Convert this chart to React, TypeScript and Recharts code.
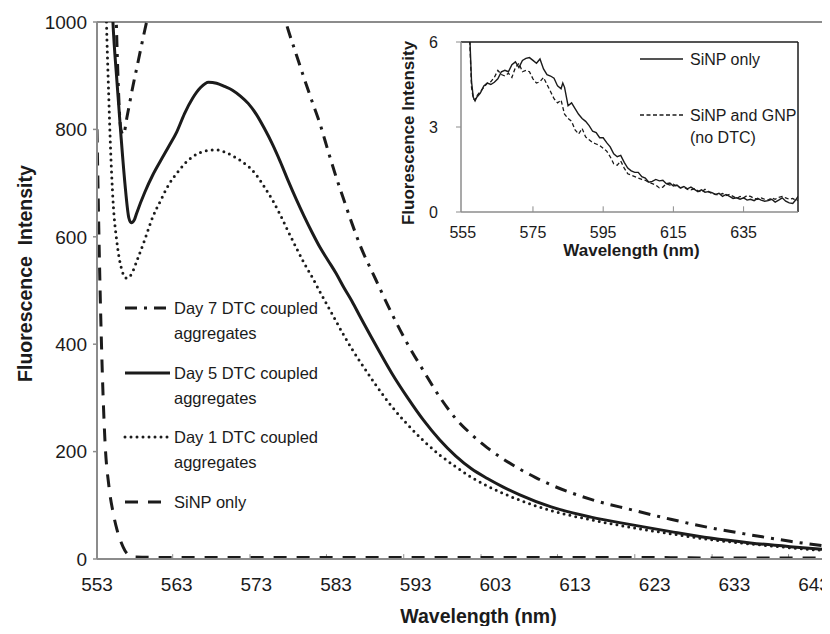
import React from "react";
import { LineChart, Line, XAxis, YAxis, ReferenceLine, Legend, Label } from "recharts";

const FONT = "'Liberation Sans', Arial, Helvetica, sans-serif";
const AXIS_GRAY = "#8c8c8c";
const INK = "#1b1b1b";

// ---- main spectra (wavelength nm / intensity) ----
const day7Nm = [553, 554, 555, 555.5, 556, 556.3, 556.8, 557.5, 558, 559, 560, 565, 570, 574, 576, 577, 578, 579, 580, 581, 582, 583, 584, 585, 586, 588, 590, 592, 594, 596, 598, 600, 602, 604, 606, 608, 610, 615, 620, 625, 630, 635, 640, 645];
const day7Val = [4000, 2400, 1300, 960, 800, 790, 826, 880, 915, 985, 1050, 1250, 1250, 1120, 1035, 985, 940, 895, 852, 810, 760, 712, 668, 625, 585, 520, 457, 400, 350, 302, 262, 232, 207, 186, 168, 152, 138, 111, 92, 74, 58, 45, 33, 23];

const day5Nm = [553, 554, 555, 555.5, 556, 556.5, 557, 557.3, 557.7, 558, 559, 560, 561, 562, 563, 564, 565, 566, 567, 568, 569, 570, 571, 572, 573, 574, 575, 576, 577, 578, 579, 580, 581, 582, 583, 584, 585, 586, 588, 590, 592, 594, 596, 598, 600, 602, 604, 606, 610, 615, 620, 625, 630, 635, 640, 645];
const day5Val = [2200, 1500, 1000, 890, 790, 700, 635, 626, 632, 645, 683, 715, 742, 768, 795, 830, 858, 878, 888, 886, 880, 873, 862, 848, 828, 802, 773, 740, 704, 670, 638, 608, 580, 556, 532, 505, 480, 452, 398, 346, 300, 258, 222, 192, 168, 150, 134, 120, 97, 78, 64, 51, 39, 30, 23, 17];

const day1Nm = [553, 554, 554.5, 555, 555.5, 556, 556.7, 557.3, 558, 559, 560, 561, 562, 563, 564, 565, 566, 567, 568, 569, 570, 571, 572, 573, 574, 575, 576, 577, 578, 579, 580, 581, 582, 583, 584, 585, 586, 588, 590, 592, 594, 596, 598, 600, 602, 604, 606, 610, 615, 620, 625, 630, 635, 640, 645];
const day1Val = [3000, 1150, 850, 670, 590, 545, 523, 530, 555, 595, 637, 668, 697, 718, 736, 749, 757, 761, 762, 758, 751, 742, 731, 715, 693, 669, 641, 610, 580, 551, 525, 497, 470, 443, 416, 391, 368, 324, 284, 250, 220, 194, 172, 152, 136, 122, 110, 90, 73, 59, 47, 36, 28, 21, 15];

const sinpNm = [553, 553.3, 553.6, 554, 554.5, 555, 555.5, 556, 556.5, 557, 557.5, 560, 570, 580, 590, 600, 610, 620, 630, 640, 645];
const sinpVal = [800, 560, 380, 220, 135, 88, 55, 32, 16, 7, 4, 3, 3, 3, 3, 3, 3, 3, 2, 2, 2];

const mainTicksX = [553, 563, 573, 583, 593, 603, 613, 623, 633, 643];
const mainTicksY = [0, 200, 400, 600, 800, 1000];
const mainMinorX = [562.5, 572.2, 581.8, 591.5, 601.2, 610.8, 620.5, 630.2, 639.8];

// ---- inset spectra ----
const insetSolidNm = [556.5, 557, 557.5, 558, 558.5, 559, 560, 561, 562, 563, 564, 565, 566, 567, 568, 569, 570, 571, 572, 573, 574, 575, 576, 577, 578, 579, 580, 581, 582, 583, 583.5, 584, 585, 586, 587, 588, 589, 590, 591, 592, 593, 594, 595, 596, 597, 598, 599, 600, 601, 602, 603, 604, 605, 606, 607, 608, 609, 610, 611, 612, 613, 614, 615, 616, 617, 618, 619, 620, 621, 622, 623, 624, 625, 626, 627, 628, 629, 630, 631, 632, 633, 634, 635, 636, 637, 638, 639, 640, 641, 642, 643, 644, 645, 646, 647, 648, 649, 650, 650.5];
const insetSolidVal = [6.5, 6.2, 4.6, 4.05, 3.92, 4.05, 4.2, 4.45, 4.55, 4.5, 4.58, 4.7, 4.95, 5.0, 4.95, 5.2, 5.3, 5.1, 5.35, 5.42, 5.45, 5.35, 5.25, 5.4, 5.05, 4.85, 4.8, 4.72, 4.45, 4.35, 4.55, 4.4, 3.75, 3.85, 3.65, 3.45, 3.3, 3.2, 3.05, 2.85, 2.8, 2.62, 2.62, 2.45, 2.3, 2.05, 1.95, 2.0, 1.75, 1.55, 1.45, 1.4, 1.4, 1.25, 1.2, 1.05, 1.08, 1.15, 1.1, 1.12, 1.0, 1.02, 0.92, 0.95, 0.85, 0.9, 0.82, 0.88, 0.8, 0.72, 0.78, 0.7, 0.72, 0.68, 0.62, 0.66, 0.55, 0.62, 0.55, 0.48, 0.5, 0.45, 0.5, 0.42, 0.45, 0.4, 0.48, 0.42, 0.38, 0.4, 0.45, 0.35, 0.42, 0.5, 0.38, 0.32, 0.3, 0.45, 0.55];

const insetDashNm = [556.5, 557, 557.5, 558, 558.5, 559, 560, 561, 562, 563, 564, 565, 566, 567, 568, 569, 570, 571, 572, 573, 574, 575, 576, 577, 578, 579, 580, 581, 582, 583, 584, 585, 586, 587, 588, 589, 590, 591, 592, 593, 594, 595, 596, 597, 598, 599, 600, 601, 602, 603, 604, 605, 606, 607, 608, 609, 610, 611, 612, 613, 614, 615, 616, 617, 618, 619, 620, 621, 622, 623, 624, 625, 626, 627, 628, 629, 630, 631, 632, 633, 634, 635, 636, 637, 638, 639, 640, 641, 642, 643, 644, 645, 646, 647, 648, 649, 650, 650.5];
const insetDashVal = [6.5, 6.0, 4.4, 4.0, 3.95, 4.1, 4.25, 4.4, 4.55, 4.6, 4.75, 5.0, 4.85, 4.8, 4.9, 4.75, 5.1, 5.25, 4.95, 5.0, 4.95, 4.7, 4.55, 4.6, 4.75, 4.5, 4.25, 4.0, 3.85, 3.95, 3.45, 3.3, 3.2, 2.9, 2.75, 2.95, 2.65, 2.55, 2.45, 2.4, 2.35, 2.25, 2.15, 1.95, 1.7, 1.65, 1.8, 1.55, 1.35, 1.3, 1.25, 1.2, 1.15, 1.12, 1.05, 1.0, 0.95, 0.85, 0.88, 1.0, 0.95, 0.98, 0.9, 0.85, 0.88, 0.8, 0.78, 0.82, 0.75, 0.7, 0.8, 0.72, 0.65, 0.62, 0.6, 0.65, 0.58, 0.62, 0.55, 0.48, 0.55, 0.5, 0.58, 0.55, 0.48, 0.45, 0.5, 0.45, 0.42, 0.5, 0.45, 0.52, 0.55, 0.5, 0.45, 0.48, 0.4, 0.42];

const insetTicksX = [555, 575, 595, 615, 635];
const insetTicksY = [0, 3, 6];

const toPoints = (nm: number[], val: number[]) => nm.map((x, i) => ({ nm: x, v: val[i] }));

// line looks shared by the curves and their legend samples
const STYLE_DAY7 = { stroke: INK, strokeWidth: 3, strokeDasharray: "12 7 3 7" };
const STYLE_DAY5 = { stroke: INK, strokeWidth: 3 };
const STYLE_DAY1 = { stroke: INK, strokeWidth: 3, strokeDasharray: "0 6", strokeLinecap: "round" as const };
const STYLE_SINP = { stroke: INK, strokeWidth: 3, strokeDasharray: "13 10" };

const mainLegend = [
  { lines: ["Day 7 DTC coupled", "aggregates"], style: STYLE_DAY7, y: 18, len: 45 },
  { lines: ["Day 5 DTC coupled", "aggregates"], style: STYLE_DAY5, y: 83, len: 45 },
  { lines: ["Day 1 DTC coupled", "aggregates"], style: STYLE_DAY1, y: 147, len: 45 },
  { lines: ["SiNP only"], style: STYLE_SINP, y: 212, len: 37 },
];

const MainLegend = () => (
  <svg width={240} height={230} style={{ overflow: "visible" }}>
    {mainLegend.map((item) => (
      <g key={item.lines[0]}>
        <line x1={5} x2={5 + item.len} y1={item.y} y2={item.y} {...item.style} />
        {item.lines.map((t, k) => (
          <text key={t} x={54} y={item.y + 6 + k * 25} fontSize={16.5} fill={INK} fontFamily={FONT}>
            {t}
          </text>
        ))}
      </g>
    ))}
  </svg>
);

const InsetLegend = () => (
  <svg width={180} height={100} style={{ overflow: "visible" }}>
    <line x1={5} x2={48} y1={14} y2={14} stroke={INK} strokeWidth={1.4} />
    <text x={55} y={20} fontSize={16} fill={INK} fontFamily={FONT}>SiNP only</text>
    <line x1={5} x2={48} y1={70} y2={70} stroke={INK} strokeWidth={1.4} strokeDasharray="4 2.5" />
    <text x={55} y={76} fontSize={16} fill={INK} fontFamily={FONT}>SiNP and GNP</text>
    <text x={55} y={98} fontSize={16} fill={INK} fontFamily={FONT}>(no DTC)</text>
  </svg>
);

const MainXTitle = (props: any) => {
  const vb = props.viewBox;
  return (
    <text x={vb.x + vb.width / 2 + 15} y={vb.y + 64} textAnchor="middle" fontSize={19.5} fontWeight="bold" fill={INK} fontFamily={FONT}>
      Wavelength (nm)
    </text>
  );
};

const MainYTitle = (props: any) => {
  const vb = props.viewBox;
  const cx = 25;
  const cy = vb.y + vb.height / 2 - 17;
  return (
    <text x={cx} y={cy} transform={`rotate(-90, ${cx}, ${cy})`} textAnchor="middle" dominantBaseline="central" fontSize={19.5} fontWeight="bold" fill={INK} fontFamily={FONT} style={{ whiteSpace: "pre" }}>
      {"Fluorescence  Intensity"}
    </text>
  );
};

const InsetXTitle = (props: any) => {
  const vb = props.viewBox;
  return (
    <text x={vb.x + vb.width / 2 + 2} y={vb.y + 44} textAnchor="middle" fontSize={17} fontWeight="bold" fill={INK} fontFamily={FONT}>
      Wavelength (nm)
    </text>
  );
};

const InsetYTitle = (props: any) => {
  const vb = props.viewBox;
  const cx = 13;
  const cy = vb.y + vb.height / 2 + 6;
  return (
    <text x={cx} y={cy} transform={`rotate(-90, ${cx}, ${cy})`} textAnchor="middle" dominantBaseline="central" fontSize={17} fontWeight="bold" fill={INK} fontFamily={FONT}>
      Fluorescence Intensity
    </text>
  );
};

export default function App() {
  return (
    <div style={{ position: "relative", width: 830, height: 634, margin: -8, background: "#fff", overflow: "hidden", fontFamily: FONT }}>
      <LineChart width={830} height={634} margin={{ top: 22, right: 0, bottom: 0, left: 0 }} style={{ position: "absolute", left: 0, top: 0 }}>
        <XAxis
          type="number"
          dataKey="nm"
          domain={[553, 645]}
          ticks={mainTicksX}
          allowDataOverflow
          height={75}
          axisLine={{ stroke: AXIS_GRAY, strokeWidth: 2 }}
          tickLine={false}
          tickSize={6}
          tickMargin={13}
          tick={{ fontSize: 19, fill: INK, fontFamily: FONT }}
        >
          <Label content={MainXTitle} />
        </XAxis>
        <YAxis
          type="number"
          domain={[0, 1000]}
          ticks={mainTicksY}
          allowDataOverflow
          width={97}
          axisLine={{ stroke: AXIS_GRAY, strokeWidth: 2 }}
          tickLine={{ stroke: AXIS_GRAY, strokeWidth: 1.5 }}
          tickSize={4}
          tickMargin={6}
          tick={{ fontSize: 19, fill: INK, fontFamily: FONT }}
        >
          <Label content={MainYTitle} />
        </YAxis>
        <ReferenceLine y={1000} stroke={AXIS_GRAY} strokeWidth={2} />
        {mainMinorX.map((x) => (
          <ReferenceLine key={x} segment={[{ x, y: 0 }, { x, y: 9 }]} stroke={AXIS_GRAY} strokeWidth={1} />
        ))}
        <Line data={toPoints(sinpNm, sinpVal)} dataKey="v" name="SiNP only" type="monotone" dot={false} isAnimationActive={false} {...STYLE_SINP} />
        <Line data={toPoints(day1Nm, day1Val)} dataKey="v" name="Day 1 DTC coupled aggregates" type="monotone" dot={false} isAnimationActive={false} {...STYLE_DAY1} />
        <Line data={toPoints(day5Nm, day5Val)} dataKey="v" name="Day 5 DTC coupled aggregates" type="monotone" dot={false} isAnimationActive={false} {...STYLE_DAY5} />
        <Line data={toPoints(day7Nm, day7Val)} dataKey="v" name="Day 7 DTC coupled aggregates" type="monotone" dot={false} isAnimationActive={false} {...STYLE_DAY7} />
        <Legend layout="vertical" align="center" verticalAlign="middle" content={MainLegend} wrapperStyle={{ left: 120, top: 290, width: 240, height: 230 }} />
      </LineChart>

      {/* inset: SiNP alone vs SiNP + GNP without DTC */}
      <LineChart width={420} height={240} margin={{ top: 12, right: 17, bottom: 0, left: 0 }} style={{ position: "absolute", left: 395, top: 30 }}>
        <XAxis
          type="number"
          dataKey="nm"
          domain={[554.5, 650.5]}
          ticks={insetTicksX}
          allowDataOverflow
          height={58}
          axisLine={{ stroke: AXIS_GRAY, strokeWidth: 1.5 }}
          tickLine={false}
          tickSize={6}
          tickMargin={9}
          tick={{ fontSize: 16, fill: INK, fontFamily: FONT }}
        >
          <Label content={InsetXTitle} />
        </XAxis>
        <YAxis
          type="number"
          domain={[0, 6]}
          ticks={insetTicksY}
          allowDataOverflow
          width={66}
          axisLine={{ stroke: AXIS_GRAY, strokeWidth: 1.5 }}
          tickLine={{ stroke: AXIS_GRAY, strokeWidth: 1 }}
          tickSize={5}
          tickMargin={18}
          tick={{ fontSize: 16, fill: INK, fontFamily: FONT }}
        >
          <Label content={InsetYTitle} />
        </YAxis>
        <ReferenceLine y={6} stroke={INK} strokeWidth={1.5} />
        <ReferenceLine x={650.5} stroke={INK} strokeWidth={1.5} />
        {insetTicksX.slice(1).map((x) => (
          <ReferenceLine key={x} segment={[{ x, y: 0 }, { x, y: 0.2 }]} stroke={AXIS_GRAY} strokeWidth={1} />
        ))}
        <Line data={toPoints(insetDashNm, insetDashVal)} dataKey="v" name="SiNP and GNP (no DTC)" type="linear" dot={false} isAnimationActive={false} stroke={INK} strokeWidth={1.3} strokeDasharray="4 2.5" />
        <Line data={toPoints(insetSolidNm, insetSolidVal)} dataKey="v" name="SiNP only" type="linear" dot={false} isAnimationActive={false} stroke={INK} strokeWidth={1.4} />
        <Legend layout="vertical" align="center" verticalAlign="middle" content={InsetLegend} wrapperStyle={{ left: 240, top: 15, width: 180, height: 100 }} />
      </LineChart>
    </div>
  );
}
